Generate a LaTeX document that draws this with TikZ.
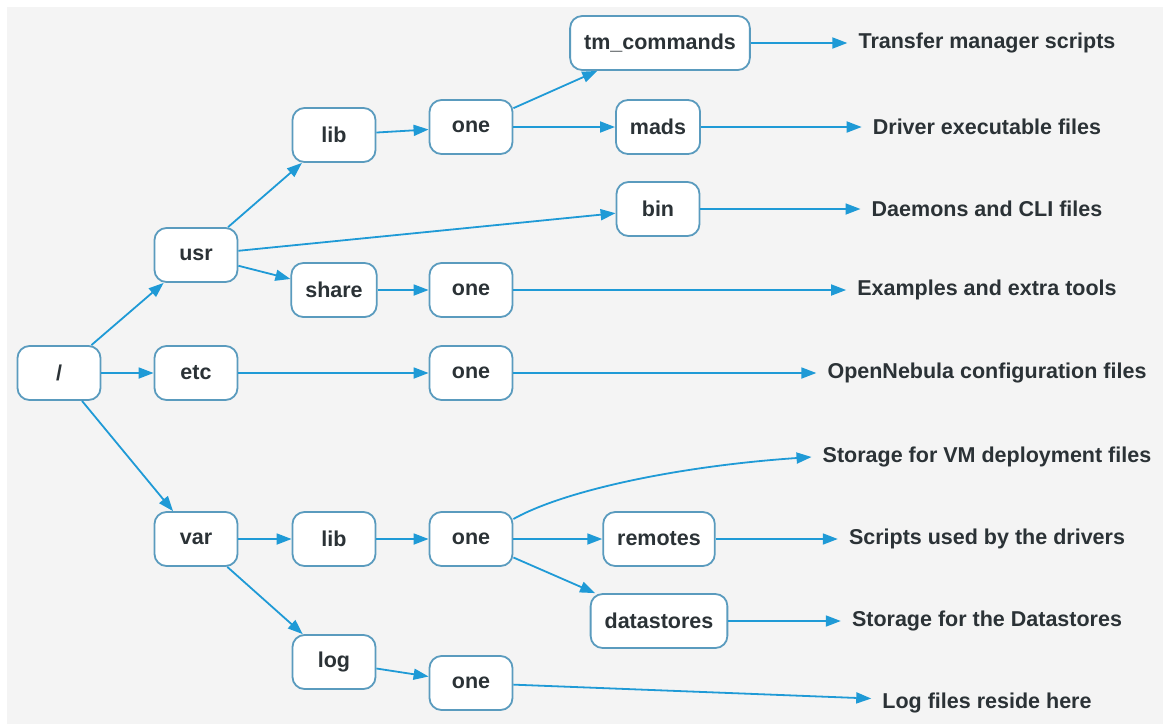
\documentclass[tikz,border=0pt]{standalone}
\usepackage{fontspec}
\setmainfont{Liberation Sans}
\usetikzlibrary{arrows.meta,calc}
\definecolor{bgcol}{HTML}{F4F4F4}
\definecolor{edgecol}{HTML}{1F9AD6}
\definecolor{boxcol}{HTML}{5A9BBE}
\definecolor{txtcol}{HTML}{2B3236}
\tikzset{
  dir/.style={draw=boxcol, line width=1.8pt, fill=white, rounded corners=12pt,
    minimum width=83pt, minimum height=54pt, inner xsep=14pt,
    font=\fontsize{21.5}{24}\selectfont\bfseries, text=txtcol},
  desc/.style={inner xsep=11pt, inner ysep=4pt,
    font=\fontsize{21.5}{24}\selectfont\bfseries, text=txtcol},
  edge/.style={draw=edgecol, line width=1.8pt, -{Triangle[length=15pt,width=11pt]}}
}
\begin{document}
\begin{tikzpicture}[x=1pt,y=-1pt]
\useasboundingbox (0,0) rectangle (1163,724);
\fill[bgcol] (7,7) rectangle (1163,724);

% directory nodes
\node[dir] (root) at (59,373) {/};
\node[dir] (usr) at (196,255) {usr};
\node[dir] (etc) at (196,373) {etc};
\node[dir] (var) at (196,539) {var};
\node[dir] (ulib) at (334,135) {lib};
\node[dir] (share) at (334,290) {share};
\node[dir] (vlib) at (334,539) {lib};
\node[dir] (log) at (334,662) {log};
\node[dir] (o1) at (471,127) {one};
\node[dir] (o2) at (471,290) {one};
\node[dir] (o3) at (471,373) {one};
\node[dir] (o4) at (471,539) {one};
\node[dir] (o5) at (471,683) {one};
\node[dir] (tm) at (660,43) {tm\_commands};
\node[dir] (mads) at (658,127) {mads};
\node[dir] (bin) at (658,209) {bin};
\node[dir] (remotes) at (659,539) {remotes};
\node[dir] (dstores) at (659,621) {datastores};

% descriptions
\node[desc] (ltm) at (987,43) {Transfer manager scripts};
\node[desc] (lmads) at (987,127) {Driver executable files};
\node[desc] (lbin) at (987,209) {Daemons and CLI files};
\node[desc] (lshare) at (987,290) {Examples and extra tools};
\node[desc] (letc) at (987,373) {OpenNebula configuration files};
\node[desc] (lvm) at (987,457) {Storage for VM deployment files};
\node[desc] (lrem) at (987,539) {Scripts used by the drivers};
\node[desc] (lds) at (987,621) {Storage for the Datastores};
\node[desc] (llog) at (987,703) {Log files reside here};

% tree edges
\draw[edge] (root) -- (usr);
\draw[edge] (root) -- (etc);
\draw[edge] (root) -- (var);
\draw[edge] (usr) -- (ulib);
\draw[edge] (usr) -- (bin);
\draw[edge] (usr) -- (share);
\draw[edge] (ulib) -- (o1);
\draw[edge] (o1) -- (tm);
\draw[edge] (o1) -- (mads);
\draw[edge] (share) -- (o2);
\draw[edge] (etc) -- (o3);
\draw[edge] (var) -- (vlib);
\draw[edge] (var) -- (log);
\draw[edge] (vlib) -- (o4);
\draw[edge] (o4) -- (remotes);
\draw[edge] (o4) -- (dstores);
\draw[edge] (log) -- (o5);

% description edges
\draw[edge] (tm) -- (ltm);
\draw[edge] (mads) -- (lmads);
\draw[edge] (bin) -- (lbin);
\draw[edge] (o2) -- (lshare);
\draw[edge] (o3) -- (letc);
\draw[edge] ($(o4.east)+(0,-20)$) .. controls (565,490) and (680,466) .. (lvm.west);
\draw[edge] (remotes) -- (lrem);
\draw[edge] (dstores) -- (lds);
\draw[edge] (o5) -- (llog);
\end{tikzpicture}
\end{document}
